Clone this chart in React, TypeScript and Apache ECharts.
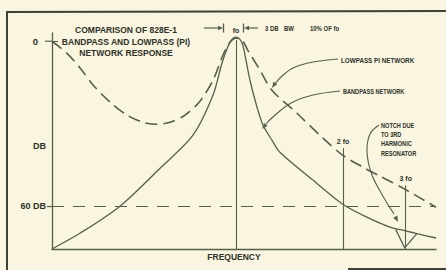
import React, { useEffect, useRef } from "react";
import * as echarts from "echarts";

// ---- axis extents (frequency relative to fo, log scale; attenuation in dB, downward) ----
const X_MIN = 0.304;
const X_MAX = 3.65;
const Y_MIN = -3;
const Y_MAX = 75.6;

// ---- Bandpass network (solid) ----
const bandpassFreq = [0.304, 0.365, 0.472, 0.612, 0.757, 0.862, 0.913, 0.95, 0.974, 1.0, 1.026, 1.046, 1.095, 1.146, 1.191, 1.262, 1.329, 1.645, 1.997, 2.332, 2.707, 3.0, 3.225, 3.65];
const bandpassDb = [75.6, 69.8, 60, 46.2, 34.2, 19.6, 8, 1.8, -0.7, -1.5, -0.7, 1.5, 14.2, 24, 30.5, 36, 40.4, 50.5, 59.3, 64, 67.6, 69, 70, 71.6];

// ---- Lowpass PI network (dashed) ----
const lowpassFreq = [0.304, 0.335, 0.365, 0.397, 0.443, 0.494, 0.548, 0.6, 0.653, 0.719, 0.792, 0.862, 0.919, 0.962, 1.0, 1.04, 1.08, 1.168, 1.262, 1.484, 1.744, 1.997, 2.273, 2.54, 2.98, 3.65];
const lowpassDb = [0, 4.4, 9.8, 16.0, 22.2, 26.9, 29.5, 30.2, 29.5, 26.9, 21.8, 14.2, 5.1, 0.4, -1.1, -0.4, 3.3, 10.5, 17.8, 26.2, 34.9, 41.5, 45.8, 49.1, 53.8, 60.4];

// ---- 3rd harmonic notch (solid V) ----
const notchFreq = [2.81, 2.98, 3.225];
const notchDb = [68.4, 75.2, 70.0];

// ---- harmonic markers ----
const harmonicFreq = [1, 2, 3];
const harmonicLabels = ["fo", "2 fo", "3 fo"];
const harmonicTopDb = [-0.4, 38.9, 52.4];

// ---- y labels ----
const yLabelValues = [0, 60];
const yLabelTexts = ["0", "60 DB"];
const refLevelDb = 60;

const LINE = "#556049";
const TEXT = "#2d3127";
const BG = "#faf5e0";
const FONT = '"Liberation Sans", Arial, sans-serif';

type P = [number, number];
function arrowHead(tip: P, from: P, len = 6, half = 2.3) {
  const dx = tip[0] - from[0];
  const dy = tip[1] - from[1];
  const d = Math.hypot(dx, dy);
  const ux = dx / d;
  const uy = dy / d;
  const bx = tip[0] - ux * len;
  const by = tip[1] - uy * len;
  return {
    type: "polygon",
    shape: { points: [tip, [bx - uy * half, by + ux * half], [bx + uy * half, by - ux * half]] },
    style: { fill: LINE },
    silent: true,
  };
}

function txt(text: string, x: number, y: number, size: number, align = "left", scaleX = 1) {
  return {
    type: "text",
    x,
    y,
    scaleX,
    style: {
      text,
      x: 0,
      y: 0,
      fill: TEXT,
      fontFamily: FONT,
      fontWeight: "bold",
      fontSize: size,
      align,
      verticalAlign: "middle",
    },
    silent: true,
  };
}

function leader(points: P[], tipFrom: P, tip: P) {
  return [
    {
      type: "polyline",
      shape: { points, smooth: 0.35 },
      style: { stroke: LINE, lineWidth: 1.1, fill: "none" },
      silent: true,
    },
    arrowHead(tip, tipFrom),
  ];
}

export default function App() {
  const ref = useRef<HTMLDivElement>(null);
  useEffect(() => {
    if (!ref.current) return;
    const chart = echarts.init(ref.current, null, { renderer: "svg" });

    const zip = (a: number[], b: number[]) => a.map((v, i) => [v, b[i]]);

    const harmonicLines = harmonicFreq.map((f, i) => [
      {
        coord: [f, harmonicTopDb[i]],
        label: {
          show: true,
          position: "start",
          formatter: harmonicLabels[i],
          color: TEXT,
          fontFamily: FONT,
          fontWeight: "bold",
          fontSize: 7,
          distance: i === 0 ? 6 : 3,
        },
      },
      { coord: [f, Y_MAX] },
    ]);

    const graphic: any[] = [
      // frame
      { type: "line", shape: { x1: 7, y1: 12, x2: 7, y2: 270 }, style: { stroke: "#3d4234", lineWidth: 2 }, silent: true },
      { type: "line", shape: { x1: 6, y1: 12, x2: 446, y2: 11 }, style: { stroke: "#3d4234", lineWidth: 2 }, silent: true },
      { type: "line", shape: { x1: 348, y1: 269, x2: 446, y2: 269 }, style: { stroke: "#3d4234", lineWidth: 2 }, silent: true },
      // title
      txt("COMPARISON OF 828E-1", 126, 30, 8.5, "center"),
      txt("BANDPASS AND LOWPASS (PI)", 126, 41.5, 8.5, "center"),
      txt("NETWORK RESPONSE", 126, 52.5, 8.5, "center"),
      // 3 dB bandwidth marks
      { type: "line", shape: { x1: 204, y1: 28, x2: 219, y2: 28 }, style: { stroke: LINE, lineWidth: 1.2 }, silent: true },
      arrowHead([223, 28], [215, 28], 5, 2.3),
      { type: "line", shape: { x1: 223.5, y1: 23.5, x2: 223.5, y2: 32.5 }, style: { stroke: LINE, lineWidth: 1.3 }, silent: true },
      { type: "line", shape: { x1: 243.5, y1: 23.5, x2: 243.5, y2: 32.5 }, style: { stroke: LINE, lineWidth: 1.3 }, silent: true },
      arrowHead([244, 28], [252, 28], 5, 2.3),
      { type: "line", shape: { x1: 248, y1: 28, x2: 258, y2: 28 }, style: { stroke: LINE, lineWidth: 1.2 }, silent: true },
      txt("3 DB", 265, 28, 7, "left", 0.85),
      txt("BW", 284, 28, 7, "left", 0.85),
      txt("10% OF fo", 310, 28, 7, "left", 0.85),
      // annotations
      txt("LOWPASS PI NETWORK", 341, 60, 7, "left", 0.9),
      txt("BANDPASS NETWORK", 343, 91, 7, "left", 0.8),
      txt("NOTCH DUE", 381, 125, 7, "left", 0.8),
      txt("TO 3RD", 381, 134, 7, "left", 0.8),
      txt("HARMONIC", 381, 143.5, 7, "left", 0.8),
      txt("RESONATOR", 381, 153, 7, "left", 0.8),
      ...leader([[338, 59], [313, 62], [293, 68], [281, 77], [275, 84]], [276, 82], [272, 88]),
      ...leader([[340, 91], [313, 95], [291, 103], [274, 116], [266, 124]], [267, 123], [262, 129]),
      ...leader([[379, 125], [370, 134], [367, 152], [372, 175], [384, 198], [394, 214]], [394, 214], [398, 222]),
      // + tick at 0 dB (outer part)
      { type: "line", shape: { x1: 45, y1: 41.2, x2: 52, y2: 41.2 }, style: { stroke: LINE, lineWidth: 1.2 }, silent: true },
    ];

    chart.setOption({
      animation: false,
      backgroundColor: BG,
      grid: { left: 52, right: 10, top: 33, bottom: 21, containLabel: false },
      xAxis: {
        type: "log",
        logBase: 10,
        min: X_MIN,
        max: X_MAX,
        position: "bottom",
        axisLine: { show: true, onZero: false, lineStyle: { color: LINE, width: 1.3 } },
        axisTick: { show: false },
        axisLabel: { show: false },
        splitLine: { show: false },
        minorTick: { show: false },
        minorSplitLine: { show: false },
        name: "FREQUENCY",
        nameLocation: "middle",
        nameGap: 3,
        nameMoveOverlap: false,
        nameTextStyle: { color: TEXT, fontFamily: FONT, fontWeight: "bold", fontSize: 8.5, padding: [0, 20, 0, 0] },
      },
      yAxis: {
        type: "value",
        inverse: true,
        min: Y_MIN,
        max: Y_MAX,
        axisLine: { show: true, onZero: false, lineStyle: { color: LINE, width: 1.3 } },
        axisTick: { show: true, customValues: [refLevelDb], length: 5, lineStyle: { color: LINE, width: 1.2 } },
        splitLine: { show: false },
        axisLabel: {
          show: true,
          customValues: yLabelValues,
          margin: 6,
          formatter: (v: number) => {
            const i = yLabelValues.indexOf(v);
            if (i < 0) return "";
            return v === 0 ? "{z|" + yLabelTexts[i] + "}" : yLabelTexts[i];
          },
          color: TEXT,
          fontFamily: FONT,
          fontWeight: "bold",
          fontSize: 9,
          rich: { z: { color: TEXT, fontFamily: FONT, fontWeight: "bold", fontSize: 9.5, padding: [0, 8, 0, 0] } },
        },
        name: "DB",
        nameLocation: "middle",
        nameRotate: 0,
        nameGap: 6,
        nameMoveOverlap: false,
        nameTextStyle: { color: TEXT, fontFamily: FONT, fontWeight: "bold", fontSize: 9, verticalAlign: "top", padding: [0, 0, 0, 0] },
      },
      series: [
        {
          name: "Bandpass network",
          type: "line",
          data: zip(bandpassFreq, bandpassDb),
          showSymbol: false,
          smooth: 0.3,
          lineStyle: { color: LINE, width: 1.3 },
          silent: true,
          markLine: {
            silent: true,
            symbol: ["none", "none"],
            lineStyle: { color: LINE, width: 1.1, type: "solid" },
            label: { show: false },
            data: [
              ...harmonicLines,
              [
                { coord: [X_MIN, 0] },
                { coord: [0.316, 0] },
              ],
              {
                yAxis: refLevelDb,
                lineStyle: { color: LINE, width: 1.1, type: [12, 9] },
                label: { show: false },
              },
            ],
          },
        },
        {
          name: "Lowpass PI network",
          type: "line",
          data: zip(lowpassFreq, lowpassDb),
          showSymbol: false,
          smooth: 0.3,
          lineStyle: { color: LINE, width: 1.6, type: [12, 6] },
          silent: true,
        },
        {
          name: "3rd harmonic notch",
          type: "line",
          data: zip(notchFreq, notchDb),
          showSymbol: false,
          smooth: false,
          lineStyle: { color: LINE, width: 1.3 },
          silent: true,
        },
      ],
      graphic,
    });
    return () => chart.dispose();
  }, []);
  return <div ref={ref} style={{ position: "absolute", left: 0, top: 0, width: 446, height: 270 }} />;
}
